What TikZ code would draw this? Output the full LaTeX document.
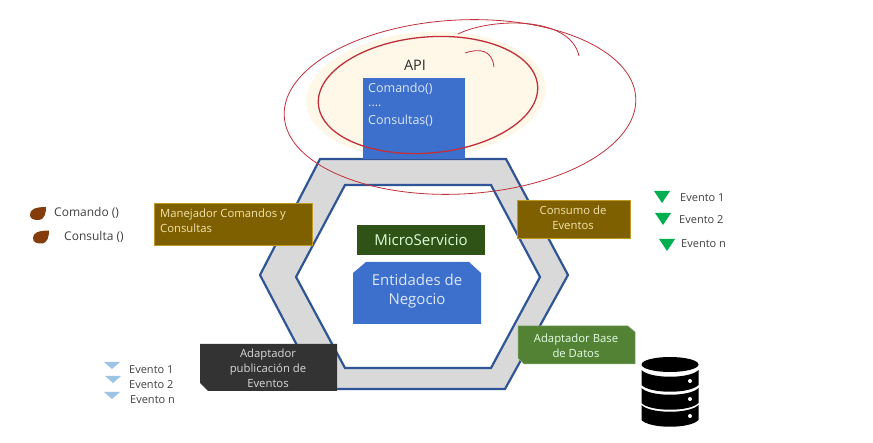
\documentclass[tikz,border=0pt]{standalone}
\usepackage{fontspec}
\setmainfont{Open Sans}
\definecolor{hexline}{HTML}{2F5597}
\definecolor{hexfill}{HTML}{D9D9D9}
\definecolor{boxblue}{HTML}{3D6FCC}
\definecolor{boxbrown}{HTML}{7F6000}
\definecolor{boxgold}{HTML}{BF9A20}
\definecolor{boxdark}{HTML}{333333}
\definecolor{boxgreen}{HTML}{548235}
\definecolor{boxmoss}{HTML}{2F5217}
\definecolor{dropbrown}{HTML}{843C0C}
\definecolor{evgreen}{HTML}{00B050}
\definecolor{evblue}{HTML}{9DC3E6}
\definecolor{inkred}{HTML}{C0303A}
\definecolor{glow}{HTML}{FFF7E8}
\definecolor{textpale}{HTML}{DDE6F5}
\definecolor{textcream}{HTML}{F3E3B0}
\definecolor{textgray}{HTML}{404040}
\tikzset{
 lbl/.style={font=\fontsize{11.3}{15}\selectfont,inner sep=0pt,align=center},
 lblside/.style={lbl,font=\fontsize{12}{14}\selectfont,anchor=west,text=textgray},
 ev/.style={font=\fontsize{11}{13}\selectfont,inner sep=0pt,anchor=west,text=textgray},
 ink/.style={inkred,line width=0.8pt},
}
\newcommand{\drop}[2]{\fill[dropbrown] (#1-8,#2+1) .. controls (#1-8,#2-4) and (#1-3,#2-6.5) .. (#1+8,#2-6.5)
 .. controls (#1+8,#2-1) and (#1+7,#2+6.5) .. (#1,#2+6.5) .. controls (#1-5,#2+6.5) and (#1-8,#2+5) .. (#1-8,#2+1) -- cycle;}
\newcommand{\evtri}[4]{\fill[#1] (#2,#4) -- ++(16,0) -- ++(-8,#3) -- cycle;}
\begin{document}
\begin{tikzpicture}[x=1pt,y=-1pt]
\useasboundingbox (0,0) rectangle (873,443);

% yellow glow behind the api
\fill[glow,rotate around={4:(426,95)}] (426,95) ellipse (120 and 63);

\begin{scope} %hexagon
\draw[hexline,fill=hexfill,line width=2.2pt] (320,159) -- (506,159) -- (568,275) -- (505,389) -- (320,389) -- (260,275) -- cycle;
\draw[hexline,fill=white,line width=2.2pt] (345,185) -- (491,185) -- (540,277) -- (491,368) -- (345,368) -- (296,277) -- cycle;
\end{scope}

\fill[boxblue] (363,78) rectangle (465,159);
\node[lbl,font=\fontsize{14.5}{16}\selectfont,text=textgray!70!black] (api) at (415,65) {API};
\node[lbl,font=\fontsize{12.5}{15}\selectfont,anchor=west,text=textpale] (comando) at (368,89) {Comando()};
\node[lbl,font=\fontsize{12.5}{15}\selectfont,anchor=west,text=textpale] (puntos) at (368,106) {....};
\node[lbl,font=\fontsize{12.5}{15}\selectfont,anchor=west,text=textpale] (consultas) at (368,121) {Consultas()};

\draw[boxgold,fill=boxbrown,line width=0.6pt] (154,203) rectangle (312,245);
\node[lbl,anchor=west,align=left,text=textcream] (manejador) at (160,221) {Manejador Comandos y\\Consultas};

\draw[boxgold,fill=boxbrown,line width=0.6pt] (517,200) rectangle (630,238);
\node[lbl,text=textcream] (consumo) at (573,218) {Consumo de\\Eventos};

\fill[boxmoss] (357,225) rectangle (485,255);
\node[lbl,text=green!15!white,font=\fontsize{15}{17}\selectfont] (micro) at (421,240) {MicroServicio};

\fill[boxblue] (353,273) -- (366,262) -- (469,262) -- (481,273) -- (481,324) -- (353,324) -- cycle;
\node[lbl,text=textpale,font=\fontsize{15}{19.5}\selectfont] (entidades) at (417,291) {Entidades de\\Negocio};

\fill[boxdark] (200,344) -- (337,344) -- (337,391) -- (208,391) -- (200,383) -- cycle;
\node[lbl,text=white!85!black] (publicacion) at (268,368.5) {Adaptador\\publicación de\\Eventos};

\draw[boxgreen!70!white,fill=boxgreen,line width=0.5pt] (518,326) -- (628,326) -- (635,332) -- (635,364) -- (524,364) -- (518,358) -- cycle;
\node[lbl,text=white!90!green] (base) at (576,346) {Adaptador Base\\de Datos};

% comandos
\drop{38}{213.5}
\drop{41}{237}
\node[lblside] (cmd) at (54,213) {Comando ()};
\node[lblside] (cons) at (64,237) {Consulta ()};

% eventos
\evtri{evgreen}{654}{12}{191}
\evtri{evgreen}{655}{12}{213}
\evtri{evgreen}{659}{12}{239}
\node[ev] (evd1) at (680,198) {Evento 1};
\node[ev] (evd2) at (679,220) {Evento 2};
\node[ev] (evdn) at (681,244) {Evento n};

\evtri{evblue}{104}{7}{362}
\evtri{evblue}{105}{7}{376}
\evtri{evblue}{104}{7}{392}
\node[ev] (evi1) at (129,370) {Evento 1};
\node[ev] (evi2) at (129,385) {Evento 2};
\node[ev] (evin) at (130,400) {Evento n};

\begin{scope} %database
\fill[black] (670,364.5) ellipse (28.5 and 7.5);
\foreach \y in {370,388,405}
{
 \fill[black] (641.5,\y) .. controls (650,\y+9) and (690,\y+9) .. (698.5,\y) -- (698.5,\y+15)
  .. controls (690,\y+24) and (650,\y+24) .. (641.5,\y+15) -- cycle;
 \fill[white] (690,\y+11) circle (2);
}
\end{scope}

% trazos rojos
\draw[ink,line width=1.3pt,rotate around={5:(428,95)}] (428,95) ellipse (110 and 58);
\draw[ink,rotate around={3:(460,107)}] (460,107) ellipse (176 and 87);
\draw[ink] (458,34) .. controls (490,18) and (570,15) .. (579,56);
\draw[ink] (465,53) .. controls (480,48) and (492,50) .. (494,67);
\end{tikzpicture}
\end{document}
